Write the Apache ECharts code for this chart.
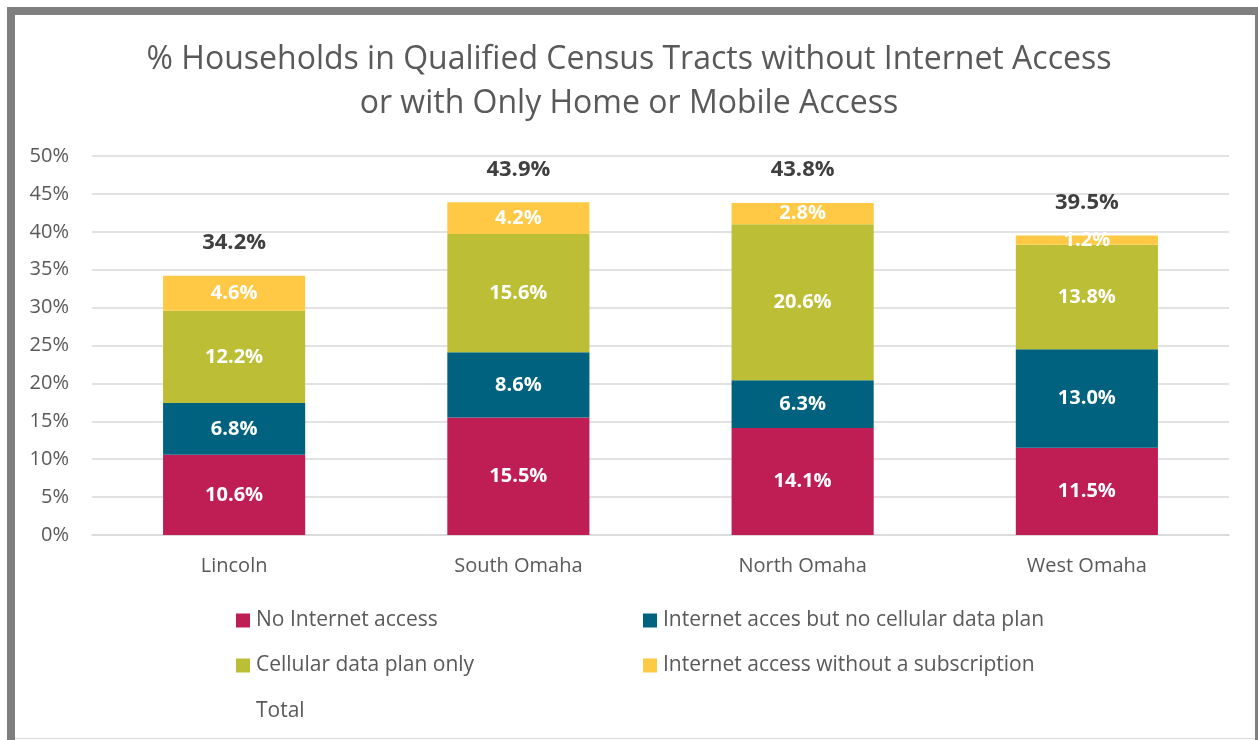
<!DOCTYPE html>
<html>
<head>
<meta charset="utf-8">
<script src="https://cdn.jsdelivr.net/npm/echarts@6/dist/echarts.min.js"></script>
<style>
  html, body { margin: 0; padding: 0; background: #fff; }
  #chart { width: 1258px; height: 740px; }
</style>
</head>
<body>
<div id="chart"></div>
<script>
const regions = ["Lincoln", "South Omaha", "North Omaha", "West Omaha"];
const noInternet = [10.6, 15.5, 14.1, 11.5];
const noCellPlan = [6.8, 8.6, 6.3, 13.0];
const cellOnly = [12.2, 15.6, 20.6, 13.8];
const noSubscription = [4.6, 4.2, 2.8, 1.2];
const totals = [34.2, 43.9, 43.8, 39.5];

const colors = ["#BE1E53", "#00627F", "#BCBF35", "#FFC845"];
const textGray = "#595959";
const font = "Open Sans";

const names = [
  "No Internet access",
  "Internet acces but no cellular data plan",
  "Cellular data plan only",
  "Internet access without a subscription",
  "Total"
];

function stackSeries(name, data, color) {
  return {
    name,
    type: "bar",
    stack: "all",
    data,
    barWidth: "50%",
    barGap: "-100%",
    itemStyle: { color },
    label: {
      show: true,
      position: "inside",
      formatter: (p) => p.value.toFixed(1) + "%",
      color: "#fff",
      fontFamily: font,
      fontWeight: "bold",
      fontSize: 20
    },
    z: 3
  };
}

function legendAt(name, left, top) {
  return {
    data: [name],
    left,
    top,
    padding: 0,
    itemWidth: 14,
    itemHeight: 14,
    icon: "rect",
    selectedMode: false,
    textStyle: { color: textGray, fontFamily: font, fontSize: 21, padding: [0, 0, 0, 1] }
  };
}

const chart = echarts.init(document.getElementById("chart"));
chart.setOption({
  animation: false,
  backgroundColor: "#fff",
  title: {
    text: "% Households in Qualified Census Tracts without Internet Access\nor with Only Home or Mobile Access",
    left: "center",
    top: 33,
    textStyle: {
      color: textGray,
      fontFamily: font,
      fontWeight: "normal",
      fontSize: 32,
      lineHeight: 44
    }
  },
  graphic: [
    {
      type: "rect",
      shape: { x: 11, y: 11, width: 1248, height: 800 },
      style: { fill: "none", stroke: "#7f7f7f", lineWidth: 8 },
      silent: true
    },
    {
      type: "line",
      shape: { x1: 15, y1: 738.5, x2: 1255, y2: 738.5 },
      style: { stroke: "#d9d9d9", lineWidth: 1 },
      silent: true
    }
  ],
  legend: [
    legendAt(names[0], 236, 610),
    legendAt(names[1], 643, 610),
    legendAt(names[2], 236, 655),
    legendAt(names[3], 643, 655),
    legendAt(names[4], 236, 701)
  ],
  grid: { left: 92, right: 29, top: 156, bottom: 205 },
  xAxis: {
    type: "category",
    data: regions,
    axisLine: { lineStyle: { color: "#d9d9d9", width: 1.5 } },
    axisTick: { show: false },
    axisLabel: { color: textGray, fontFamily: font, fontSize: 20, margin: 21 }
  },
  yAxis: {
    type: "value",
    min: 0,
    max: 50,
    interval: 5,
    axisLine: { show: false },
    axisTick: { show: false },
    axisLabel: {
      formatter: "{value}%",
      color: textGray,
      fontFamily: font,
      fontSize: 20,
      margin: 23
    },
    splitLine: { lineStyle: { color: "#d9d9d9", width: 1.5 } }
  },
  series: [
    stackSeries(names[0], noInternet, colors[0]),
    stackSeries(names[1], noCellPlan, colors[1]),
    stackSeries(names[2], cellOnly, colors[2]),
    stackSeries(names[3], noSubscription, colors[3]),
    {
      name: names[4],
      type: "bar",
      data: totals,
      barWidth: "50%",
      barGap: "-100%",
      itemStyle: { color: "transparent" },
      label: {
        show: true,
        position: "top",
        distance: 22,
        formatter: (p) => p.value.toFixed(1) + "%",
        color: "#404040",
        fontFamily: font,
        fontWeight: "bold",
        fontSize: 22
      },
      z: 1
    }
  ]
});
</script>
</body>
</html>
